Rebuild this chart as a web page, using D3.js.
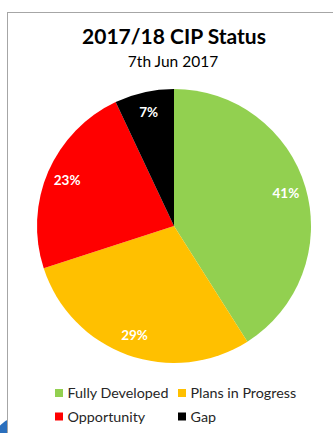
<!DOCTYPE html>
<html>
<head>
<meta charset="utf-8">
<script src="https://cdn.jsdelivr.net/npm/d3@7"></script>
<style>
  html, body { margin: 0; padding: 0; background: #fff; }
  svg { display: block; }
</style>
</head>
<body>
<svg id="chart" width="333" height="433"></svg>
<script>
// CIP status breakdown (percent of plans)
const categories = ["Fully Developed", "Plans in Progress", "Opportunity", "Gap"];
const values = [41, 29, 23, 7];
const colors = ["#92D050", "#FFC000", "#FF0000", "#000000"];

const titleText = "2017/18 CIP Status";
const subtitleText = "7th Jun 2017";

const W = 333, H = 433;
const svg = d3.select("#chart");
const font = "Lato, 'Open Sans', sans-serif";

// Corner ornament bleeding in at the bottom left
svg.append("circle")
  .attr("cx", 22).attr("cy", 446).attr("r", 30)
  .attr("fill", "#2b6fbd");

// Chart frame
svg.append("rect")
  .attr("x", 7.5).attr("y", 12.5)
  .attr("width", W + 10).attr("height", H + 10)
  .attr("fill", "#fff")
  .attr("stroke", "#a6a6a6")
  .attr("stroke-width", 1);

// Titles
svg.append("text")
  .attr("x", 174).attr("y", 44)
  .attr("text-anchor", "middle")
  .attr("font-family", font)
  .attr("font-weight", "bold")
  .attr("font-size", 21)
  .attr("fill", "#000")
  .text(titleText);

svg.append("text")
  .attr("x", 173).attr("y", 67)
  .attr("text-anchor", "middle")
  .attr("font-family", font)
  .attr("font-size", 15.5)
  .attr("fill", "#000")
  .text(subtitleText);

// Pie
const cx = 174, cy = 226, R = 137;
const data = categories.map((c, i) => ({ name: c, value: values[i], color: colors[i] }));
const pie = d3.pie().value(d => d.value).sort(null);
const arc = d3.arc().innerRadius(0).outerRadius(R);
const labelArc = d3.arc().innerRadius(R * 0.85).outerRadius(R * 0.85);

const g = svg.append("g").attr("transform", `translate(${cx},${cy})`);
const arcs = pie(data);

g.selectAll("path.slice")
  .data(arcs)
  .join("path")
  .attr("class", "slice")
  .attr("d", arc)
  .attr("fill", d => d.data.color);

g.selectAll("text.pct")
  .data(arcs)
  .join("text")
  .attr("class", "pct")
  .attr("transform", d => `translate(${labelArc.centroid(d)})`)
  .attr("text-anchor", "middle")
  .attr("dy", "0.36em")
  .attr("font-family", font)
  .attr("font-weight", "bold")
  .attr("font-size", 13.5)
  .attr("fill", "#fff")
  .text(d => d.data.value + "%");

// Legend (two rows of two)
const legendPos = [
  { x: 55, y: 393 },
  { x: 178, y: 393 },
  { x: 55, y: 416.5 },
  { x: 178, y: 416.5 }
];
const lg = svg.selectAll("g.legend")
  .data(data)
  .join("g")
  .attr("class", "legend")
  .attr("transform", (d, i) => `translate(${legendPos[i].x},${legendPos[i].y})`);

lg.append("rect")
  .attr("x", 0).attr("y", -4)
  .attr("width", 8).attr("height", 8)
  .attr("fill", d => d.color);

lg.append("text")
  .attr("x", 12.5).attr("y", 0)
  .attr("dy", "0.36em")
  .attr("font-family", font)
  .attr("font-size", 14.3)
  .attr("fill", "#262626")
  .text(d => d.name);
</script>
</body>
</html>
